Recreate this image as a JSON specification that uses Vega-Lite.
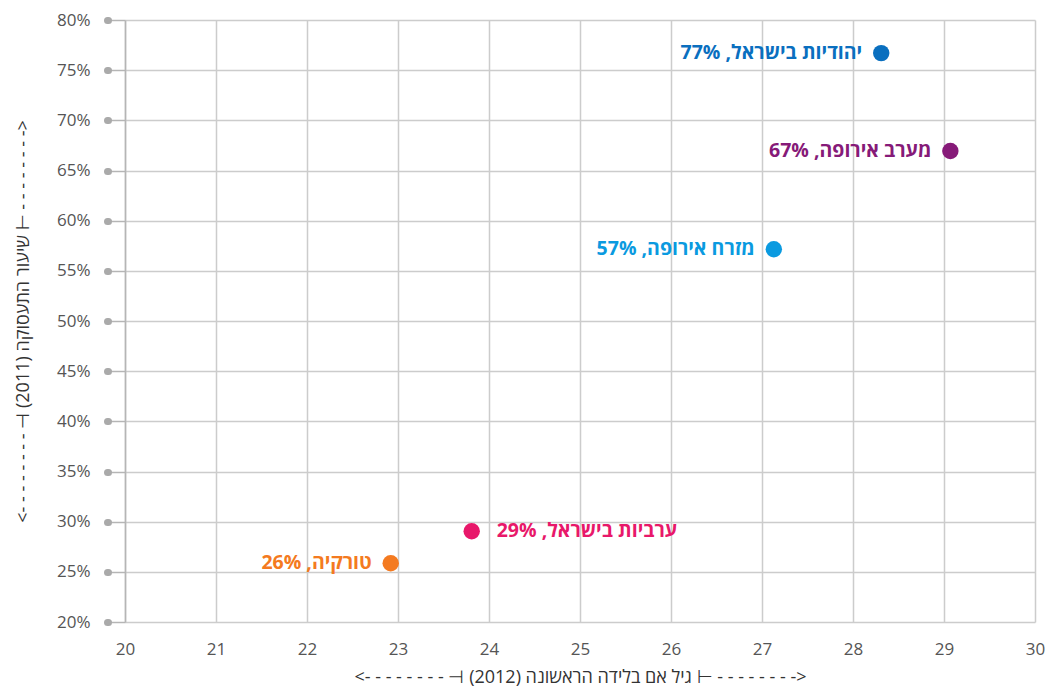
{
  "$schema": "https://vega.github.io/schema/vega-lite/v6.json",
  "width": 910,
  "height": 602,
  "autosize": {"type": "none"},
  "padding": {"left": 125, "top": 20, "right": 15, "bottom": 73},
  "background": "white",
  "config": {
    "view": {"stroke": null},
    "font": "Open Sans",
    "axis": {"labelFont": "Open Sans", "titleFont": "Open Sans"}
  },
  "data": {
    "values": [
      {"name": "יהודיות בישראל, 77%", "age": 28.31, "rate": 76.7},
      {"name": "מערב אירופה, 67%", "age": 29.07, "rate": 66.95},
      {"name": "מזרח אירופה, 57%", "age": 27.13, "rate": 57.15},
      {"name": "ערביות בישראל, 29%", "age": 23.81, "rate": 29.05},
      {"name": "טורקיה, 26%", "age": 22.92, "rate": 25.85}
    ]
  },
  "resolve": {"axis": {"y": "independent"}},
  "layer": [
    {
      "mark": {"type": "point", "filled": true, "opacity": 1, "size": 270},
      "encoding": {
        "x": {
          "field": "age", "type": "quantitative",
          "scale": {"domain": [20, 30], "nice": false, "zero": false},
          "axis": {
            "values": [20, 21, 22, 23, 24, 25, 26, 27, 28, 29, 30],
            "format": "d",
            "ticks": false, "domain": false, "grid": true,
            "gridColor": "#cccccc", "gridWidth": 1.5,
            "labelPadding": 19, "labelFontSize": 17, "labelColor": "#555555",
            "labelFlush": false,
            "title": "<- - - - - - - - ⊣  גיל אם בלידה הראשונה (2012)  ⊢ - - - - - - - ->",
            "titleFontSize": 18, "titleFontWeight": "normal", "titleColor": "#333333",
            "titlePadding": 11
          }
        },
        "y": {
          "field": "rate", "type": "quantitative",
          "scale": {"domain": [20, 80], "nice": false, "zero": false},
          "axis": {
            "values": [20, 25, 30, 35, 40, 45, 50, 55, 60, 65, 70, 75, 80],
            "labelExpr": "datum.value + '%'",
            "tickSize": 18, "tickColor": "#b5b5b5", "tickWidth": 1.5,
            "domain": true, "domainColor": "#b5b5b5", "domainWidth": 1.5,
            "grid": true, "gridColor": "#cccccc", "gridWidth": 1.5,
            "labelPadding": 17, "labelFontSize": 17, "labelColor": "#555555",
            "labelFlush": false,
            "title": "<- - - - - - - - ⊣  שיעור התעסוקה (2011)  ⊢ - - - - - - - ->",
            "titleFontSize": 18, "titleFontWeight": "normal", "titleColor": "#333333",
            "titlePadding": 24
          }
        },
        "color": {
          "field": "name", "type": "nominal", "legend": null,
          "scale": {
            "domain": ["יהודיות בישראל, 77%", "מערב אירופה, 67%", "מזרח אירופה, 57%", "ערביות בישראל, 29%", "טורקיה, 26%"],
            "range": ["#0a6fbf", "#861a78", "#0a9ae0", "#e8186a", "#f47a20"]
          }
        }
      }
    },
    {
      "transform": [{"filter": "datum.name != 'ערביות בישראל, 29%'"}],
      "mark": {"type": "text", "align": "right", "baseline": "middle", "dx": -19, "fontSize": 19.5, "fontWeight": "bold", "font": "Open Sans"},
      "encoding": {
        "x": {"field": "age", "type": "quantitative"},
        "y": {
          "field": "rate", "type": "quantitative",
          "axis": {
            "orient": "left", "offset": 17,
            "values": [20, 25, 30, 35, 40, 45, 50, 55, 60, 65, 70, 75, 80],
            "labels": false, "domain": false, "grid": false,
            "ticks": true, "tickSize": 1, "tickWidth": 7, "tickCap": "round", "tickColor": "#aaaaaa",
            "title": null
          }
        },
        "text": {"field": "name"},
        "color": {"field": "name", "type": "nominal", "legend": null}
      }
    },
    {
      "transform": [{"filter": "datum.name == 'ערביות בישראל, 29%'"}],
      "mark": {"type": "text", "align": "left", "baseline": "middle", "dx": 25, "fontSize": 19.5, "fontWeight": "bold", "font": "Open Sans"},
      "encoding": {
        "x": {"field": "age", "type": "quantitative"},
        "y": {"field": "rate", "type": "quantitative", "axis": null},
        "text": {"field": "name"},
        "color": {"field": "name", "type": "nominal", "legend": null}
      }
    }
  ]
}
